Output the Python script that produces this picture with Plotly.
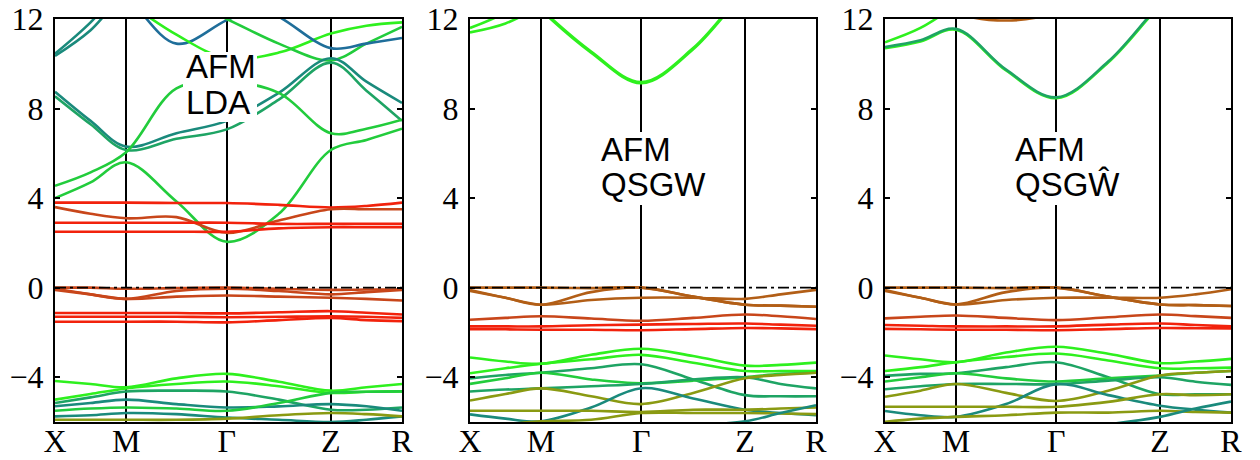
import plotly.graph_objects as go

# ---------------- data ----------------
K_TICKS = [0.0, 0.205, 0.495, 0.795, 1.0]
K_LABELS = ["X", "M", "Γ", "Z", "R"]
# sampling: X, X-M, M, M-Γ, Γ, Γ-Z, Z, Z-R, R
K = [0.0, 0.1025, 0.205, 0.35, 0.495, 0.645, 0.795, 0.8975, 1.0]
Y_TICKS = [-4, 0, 4, 8, 12]
Y_LABELS = ["−4", "0", "4", "8", "12"]

PALETTE = {
    "red": "#f2220c", "rust": "#c8461a", "brown": "#b25e16", "olive": "#8a9a12",
    "lime": "#2ef01e", "green": "#22cc3c", "sea": "#1ea464", "teal": "#1a8a7c",
    "blue": "#1f6e9a",
}

LDA_BANDS = [
    [10.35, 11.5, 13.2, 14.5, 15, 15, 15, 15, 15],
    [10.45, 11.85, 13.6, 15, 15, 15, 15, 15, 15],
    [15, 14, 13.0, 10.9, 11.95, 13, 14.5, 15, 15],
    [15, 14, 12.8, 11.3, 10.25, 10.5, 11.35, 11.7, 11.85],
    [15, 14.5, 14, 13, 12.0, 10.9, 10.15, 10.9, 11.65],
    [15, 15, 15, 14, 13.2, 12.1, 10.7, 10.9, 11.15],
    [8.75, 7.45, 6.3, 6.9, 7.45, 8.7, 10.25, 9.2, 8.25],
    [8.55, 7.3, 6.15, 6.65, 7.07, 8.4, 10.05, 8.8, 7.45],
    [4.55, 5.15, 6.05, 8.9, 9.2, 8.7, 6.9, 7.1, 7.5],
    [4.0, 4.7, 5.6, 3.85, 2.05, 3.3, 6.15, 6.6, 7.1],
    [3.8, 3.8, 3.8, 3.78, 3.78, 3.7, 3.58, 3.65, 3.8],
    [3.6, 3.3, 3.1, 3.15, 2.45, 3.0, 3.5, 3.5, 3.5],
    [2.9, 2.9, 2.9, 2.9, 2.9, 2.85, 2.85, 2.85, 2.85],
    [2.5, 2.5, 2.5, 2.5, 2.5, 2.65, 2.7, 2.7, 2.7],
    [0.0, 0.0, -0.05, -0.02, 0.0, -0.05, -0.1, -0.08, -0.08],
    [-0.05, -0.3, -0.5, -0.15, -0.05, -0.15, -0.3, -0.2, -0.1],
    [-0.1, -0.3, -0.5, -0.4, -0.35, -0.4, -0.45, -0.5, -0.57],
    [-1.13, -1.13, -1.13, -1.13, -1.15, -1.1, -1.05, -1.12, -1.2],
    [-1.3, -1.3, -1.3, -1.3, -1.32, -1.3, -1.28, -1.3, -1.35],
    [-1.52, -1.52, -1.52, -1.52, -1.55, -1.45, -1.35, -1.45, -1.5],
    [-4.17, -4.3, -4.45, -4.05, -3.85, -4.2, -4.6, -4.45, -4.3],
    [-5.0, -4.75, -4.5, -4.3, -4.19, -4.4, -4.7, -4.65, -4.63],
    [-5.15, -4.9, -4.64, -4.6, -4.64, -5.0, -5.45, -5.45, -5.35],
    [-5.3, -5.15, -5.0, -5.2, -5.35, -5.3, -5.2, -5.3, -5.5],
    [-5.5, -5.4, -5.35, -5.4, -5.5, -5.15, -4.7, -4.65, -4.63],
    [-5.75, -5.7, -5.6, -5.65, -5.8, -5.9, -6.0, -5.9, -5.75],
    [-5.9, -5.9, -5.9, -5.9, -5.85, -5.7, -5.6, -5.65, -5.75],
]
LDA_COLORS = ["teal", "teal", "blue", "lime", "green", "blue", "teal", "sea",
              "green", "green", "red", "rust", "red", "red",
              "rust", "rust", "rust", "red", "red", "red",
              "lime", "lime", "sea", "teal", "green", "teal", "olive"]

QSGW_BANDS = [
    [11.6, 12.3, 13.5, 15, 15, 15, 15, 15, 15],
    [11.4, 11.8, 12.6, 14, 15, 15, 15, 15, 15],
    [15, 14, 12.4, 10.5, 9.13, 10.65, 13.2, 14.5, 15],
    [15, 14, 12.45, 10.55, 9.18, 10.7, 13.25, 14.5, 15],
    [0, 0, 0, -0.02, 0, -0.4, -0.76, -0.8, -0.85],
    [-0.15, -0.45, -0.76, -0.2, 0, -0.4, -0.76, -0.8, -0.85],
    [-0.1, -0.45, -0.76, -0.55, -0.45, -0.45, -0.5, -0.3, -0.1],
    [-1.43, -1.35, -1.28, -1.38, -1.48, -1.35, -1.2, -1.28, -1.4],
    [-1.73, -1.73, -1.73, -1.68, -1.65, -1.62, -1.6, -1.65, -1.7],
    [-1.85, -1.86, -1.88, -1.88, -1.9, -1.85, -1.8, -1.82, -1.85],
    [-3.12, -3.3, -3.4, -3.0, -2.73, -3.05, -3.48, -3.45, -3.35],
    [-3.82, -3.6, -3.4, -3.2, -3.0, -3.35, -3.72, -3.72, -3.72],
    [-4.05, -3.9, -3.8, -3.6, -3.42, -4.1, -4.8, -4.85, -4.85],
    [-4.3, -4.05, -3.8, -4.1, -4.27, -4.15, -4.0, -3.85, -3.8],
    [-4.64, -4.55, -4.5, -4.4, -4.3, -4.1, -4.0, -4.3, -4.5],
    [-5.04, -4.75, -4.5, -4.85, -5.2, -4.7, -4.05, -3.9, -3.8],
    [-5.66, -5.85, -5.97, -5.35, -4.49, -4.95, -5.45, -5.6, -5.7],
    [-5.5, -5.5, -5.5, -5.5, -5.55, -5.45, -5.45, -5.4, -5.35],
    [-6.2, -6.1, -5.97, -5.9, -5.6, -5.6, -5.6, -5.62, -5.65],
    [-6.3, -6.3, -6.3, -6.3, -6.3, -6.15, -5.97, -5.6, -5.25],
]
QSGW_COLORS = ["lime", "lime", "lime", "lime",
               "brown", "brown", "brown", "rust", "red", "red",
               "lime", "lime", "sea", "green", "sea", "olive", "teal", "olive", "olive", "teal"]

QSGWH_BANDS = [
    [10.96, 11.6, 12.6, 14, 15, 15, 15, 15, 15],
    [10.7, 11.0, 11.52, 9.7, 8.46, 10.06, 12.6, 14, 15],
    [10.75, 11.05, 11.56, 9.74, 8.5, 10.1, 12.65, 14, 15],
    [15, 13.5, 12.3, 11.93, 12.3, 13.5, 15, 15, 15],
    [0, 0, 0, -0.02, 0, -0.4, -0.75, -0.78, -0.82],
    [-0.15, -0.45, -0.75, -0.2, 0, -0.4, -0.75, -0.78, -0.82],
    [-0.1, -0.45, -0.75, -0.55, -0.45, -0.45, -0.45, -0.3, -0.07],
    [-1.37, -1.3, -1.24, -1.35, -1.45, -1.32, -1.2, -1.27, -1.35],
    [-1.67, -1.7, -1.73, -1.73, -1.73, -1.65, -1.6, -1.67, -1.73],
    [-1.84, -1.86, -1.88, -1.88, -1.9, -1.85, -1.8, -1.81, -1.82],
    [-3.03, -3.2, -3.33, -2.9, -2.64, -2.95, -3.37, -3.3, -3.18],
    [-3.72, -3.55, -3.33, -3.1, -2.94, -3.25, -3.6, -3.6, -3.57],
    [-3.94, -3.85, -3.82, -3.55, -3.33, -4.0, -4.76, -4.76, -4.76],
    [-4.19, -4.0, -3.82, -4.05, -4.19, -4.05, -3.92, -3.8, -3.72],
    [-4.54, -4.4, -4.3, -4.3, -4.31, -4.15, -4.0, -4.2, -4.34],
    [-4.87, -4.6, -4.3, -4.7, -5.06, -4.6, -3.92, -3.8, -3.72],
    [-5.51, -5.7, -5.77, -5.2, -4.31, -4.8, -5.27, -5.45, -5.58],
    [-5.32, -5.32, -5.32, -5.32, -5.32, -5.1, -4.76, -4.8, -4.76],
    [-5.99, -5.85, -5.77, -5.7, -5.58, -5.58, -5.5, -5.55, -5.58],
    [-6.2, -6.2, -6.2, -6.2, -6.3, -6.1, -5.77, -5.4, -5.09],
]
QSGWH_COLORS = ["lime", "lime", "sea", "brown",
                "brown", "brown", "brown", "rust", "red", "red",
                "lime", "lime", "sea", "green", "sea", "olive", "teal", "olive", "olive", "teal"]

PANEL_TITLES = [("AFM", "LDA"), ("AFM", "QSGW"), ("AFM", "QSGŴ")]

# ---------------- layout geometry (pixels) ----------------
W, H = 1260, 460
PANEL_X = [(55, 402), (470, 816), (885, 1231)]
PLOT_TOP, PLOT_BOTTOM = 19, 422
LABEL_BOX = [(183, 52, 257, 122), (596, 132, 711, 205), (1010, 132, 1127, 205)]
LABEL_POS = [(185, 67, 102), (600, 149, 184), (1014, 149, 184)]

fig = go.Figure()
panels = [(LDA_BANDS, LDA_COLORS), (QSGW_BANDS, QSGW_COLORS), (QSGWH_BANDS, QSGWH_COLORS)]

for i, (bands, colors) in enumerate(panels):
    ax = "" if i == 0 else str(i + 1)
    for b, c in zip(bands, colors):
        fig.add_trace(go.Scatter(
            x=K, y=b, mode="lines", xaxis="x" + ax, yaxis="y" + ax,
            line=dict(color=PALETTE[c], width=2.6, shape="spline", smoothing=1.0),
            showlegend=False, hoverinfo="skip"))
    fig.add_trace(go.Scatter(
        x=[K_TICKS[0], K_TICKS[-1]], y=[0, 0], mode="lines", xaxis="x" + ax, yaxis="y" + ax,
        line=dict(color="black", width=1.6, dash="11px,4px,3px,4px"),
        showlegend=False, hoverinfo="skip"))

    x0, x1 = PANEL_X[i]
    dom_x = [x0 / W, x1 / W]
    dom_y = [1 - PLOT_BOTTOM / H, 1 - PLOT_TOP / H]
    fig.update_layout(**{
        "xaxis" + ax: dict(
            domain=dom_x, range=[0, 1], anchor="y" + ax, automargin=False,
            tickmode="array", tickvals=K_TICKS, ticktext=K_LABELS,
            showgrid=True, gridcolor="black", gridwidth=2,
            showline=True, mirror=True, linecolor="black", linewidth=2,
            ticks="", zeroline=False, ticklabelstandoff=-10,
            tickfont=dict(family="Liberation Serif", size=32, color="black"),
        ),
        "yaxis" + ax: dict(
            domain=dom_y, range=[-6, 12], anchor="x" + ax, automargin=False,
            tickmode="array", tickvals=Y_TICKS, ticktext=Y_LABELS,
            showgrid=False, zeroline=False,
            showline=True, mirror="ticks", linecolor="black", linewidth=2,
            ticks="inside", ticklen=5, tickwidth=2, tickcolor="black",
            ticklabelstandoff=3,
            tickfont=dict(family="Liberation Serif", size=32, color="black"),
        ),
    })

    bx0, by0, bx1, by1 = LABEL_BOX[i]
    fig.add_shape(type="rect", xref="paper", yref="paper",
                  x0=bx0 / W, x1=bx1 / W, y0=1 - by1 / H, y1=1 - by0 / H,
                  fillcolor="white", line=dict(width=0), layer="above")
    lx, ly1, ly2 = LABEL_POS[i]
    for txt, ly in zip(PANEL_TITLES[i], (ly1, ly2)):
        fig.add_annotation(text=txt, xref="paper", yref="paper",
                           x=lx / W, y=1 - ly / H, xanchor="left", yanchor="middle",
                           showarrow=False, borderpad=0,
                           font=dict(family="Liberation Sans", size=33, color="black"))

fig.update_layout(
    width=W, height=H, margin=dict(l=0, r=0, t=0, b=0),
    paper_bgcolor="white", plot_bgcolor="white",
)

fig.write_html("out.html", config={"displayModeBar": False},
               post_script="document.body.style.margin='0px';")
